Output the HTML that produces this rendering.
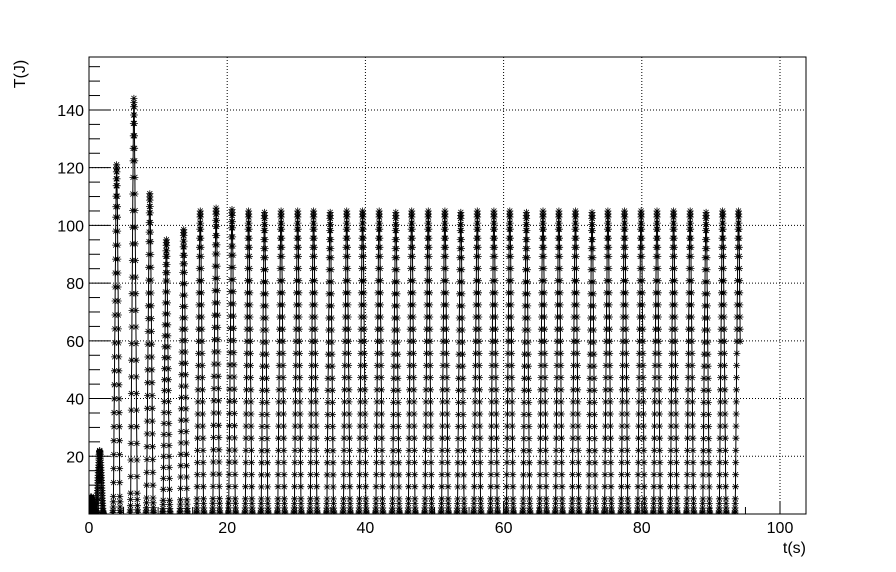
<!DOCTYPE html>
<html><head><meta charset="utf-8"><style>
html,body{margin:0;padding:0;background:#fff;}
svg{display:block;font-family:"Liberation Sans",Arial,sans-serif;}
</style></head><body>
<svg id="chart" width="896" height="572" viewBox="0 0 896 572" xmlns="http://www.w3.org/2000/svg">
<rect x="0" y="0" width="896" height="572" fill="#fff"/>
<defs><clipPath id="clip"><rect x="89" y="57" width="717" height="457"/></clipPath></defs>
<g id="grid"></g>
<g id="axes"></g>
<g id="series" clip-path="url(#clip)"></g>
<rect x="89" y="57" width="717" height="457" fill="none" stroke="#000" stroke-width="1"/>
<text x="25" y="74" text-anchor="middle" font-size="16" transform="rotate(-90 25 74)">T(J)</text>
<text x="806" y="553" text-anchor="end" font-size="16">t(s)</text>
</svg>
<script>
const peakTimes = [0.3, 1.55, 4.0, 6.5, 8.8, 11.2, 13.7, 16.1, 18.4, 20.7, 23.1, 25.4, 27.8, 30.2, 32.5, 34.9, 37.3, 39.6, 42.0, 44.4, 46.7, 49.1, 51.5, 53.8, 56.2, 58.6, 60.9, 63.3, 65.7, 68.0, 70.4, 72.8, 75.1, 77.5, 79.9, 82.2, 84.6, 87.0, 89.3, 91.7, 94.0];
const peakValues = [6, 22, 121, 144, 111, 95, 98.5, 105, 106, 105.5, 105, 104.5, 105, 105, 105, 104.5, 105, 105, 105, 104.5, 105, 105, 105, 104.5, 105, 105, 105, 104.5, 105, 105, 105, 104.5, 105, 105, 105, 105, 105, 105, 104.5, 105, 105];
const riseShape = [0, 0.004, 0.01, 0.02, 0.035, 0.05, 0.09, 0.13, 0.17, 0.21, 0.25, 0.29, 0.33, 0.37, 0.41, 0.45, 0.49, 0.53, 0.57, 0.61, 0.65, 0.69, 0.73, 0.77, 0.81, 0.85, 0.88, 0.91, 0.94, 0.96, 0.98, 0.99, 1];
const lastCut = 0.6;
const xTicks = [0, 20, 40, 60, 80, 100];
const yTicks = [20, 40, 60, 80, 100, 120, 140];

const NS = "http://www.w3.org/2000/svg";
const X0 = 89, XS = 6.91, Y0 = 514, YS = 2.886, XR = 806, YT = 57;
const xScale = t => X0 + t * XS;
const yScale = v => Y0 - v * YS;
function mk(tag, attrs, parent) {
  const e = document.createElementNS(NS, tag);
  for (const k in attrs) e.setAttribute(k, attrs[k]);
  parent.appendChild(e);
  return e;
}
const grid = document.getElementById('grid');
const axes = document.getElementById('axes');
const series = document.getElementById('series');

xTicks.forEach(t => {
  const x = xScale(t);
  if (t > 0) {
    const g = mk('line', {x1: x, x2: x, y1: YT, y2: Y0, stroke: '#000', 'stroke-width': 1, 'stroke-dasharray': '1,2'}, grid);
    
    
  }
  const tk = mk('line', {x1: x, x2: x, y1: Y0, y2: Y0 - 13, stroke: '#000'}, axes);
  
  
  const lb = mk('text', {x: x, y: Y0 + 19, 'text-anchor': 'middle', 'font-size': 16}, axes);
  lb.textContent = t;
  
  
});
for (let t = 5; t < 104; t += 5) {
  if (t % 20 === 0) continue;
  const x = xScale(t);
  const tk = mk('line', {x1: x, x2: x, y1: Y0, y2: Y0 - 7, stroke: '#000'}, axes);
  
  
}
yTicks.forEach(v => {
  const y = yScale(v);
  const g = mk('line', {x1: X0, x2: XR, y1: y, y2: y, stroke: '#000', 'stroke-width': 1, 'stroke-dasharray': '1,2'}, grid);
  
  
  const tk = mk('line', {x1: X0, x2: X0 + 21, y1: y, y2: y, stroke: '#000'}, axes);
  
  
  const lb = mk('text', {x: X0 - 5, y: y + 6, 'text-anchor': 'end', 'font-size': 16}, axes);
  lb.textContent = v;
  
  
});
for (let v = 5; v < 158; v += 5) {
  if (v % 20 === 0) continue;
  const y = yScale(v);
  const tk = mk('line', {x1: X0, x2: X0 + 11, y1: y, y2: y, stroke: '#000'}, axes);
  
  
}

const R = 0.55;
const pts = [];
const n = riseShape.length;
peakTimes.forEach((tp, i) => {
  const v = peakValues[i];
  for (let k = 0; k < n; k++) pts.push([tp - R + R * k / (n - 1), v * riseShape[k]]);
  const last = i === peakTimes.length - 1;
  for (let k = 1; k < n; k++) {
    const s = riseShape[n - 1 - k];
    pts.push([tp + R * k / (n - 1), v * s]);
    if (last && s < lastCut) break;
  }
});
let dLine = '', dMark = '';
pts.forEach((p, j) => {
  const xn = +xScale(p[0]).toFixed(1), yn = +yScale(p[1]).toFixed(1);
  dLine += (j ? 'L' : 'M') + xn + ' ' + yn;
  dMark += `M${xn-3.5} ${yn}h7M${xn} ${yn-3.5}v7M${xn-2.5} ${yn-2.5}l5 5M${xn-2.5} ${yn+2.5}l5 -5`;
});
const line = mk('path', {d: dLine, fill: 'none', stroke: '#000', 'stroke-width': 1}, series);


const marks = mk('path', {d: dMark, fill: 'none', stroke: '#000', 'stroke-width': 0.8}, series);


</script>
</body></html>
